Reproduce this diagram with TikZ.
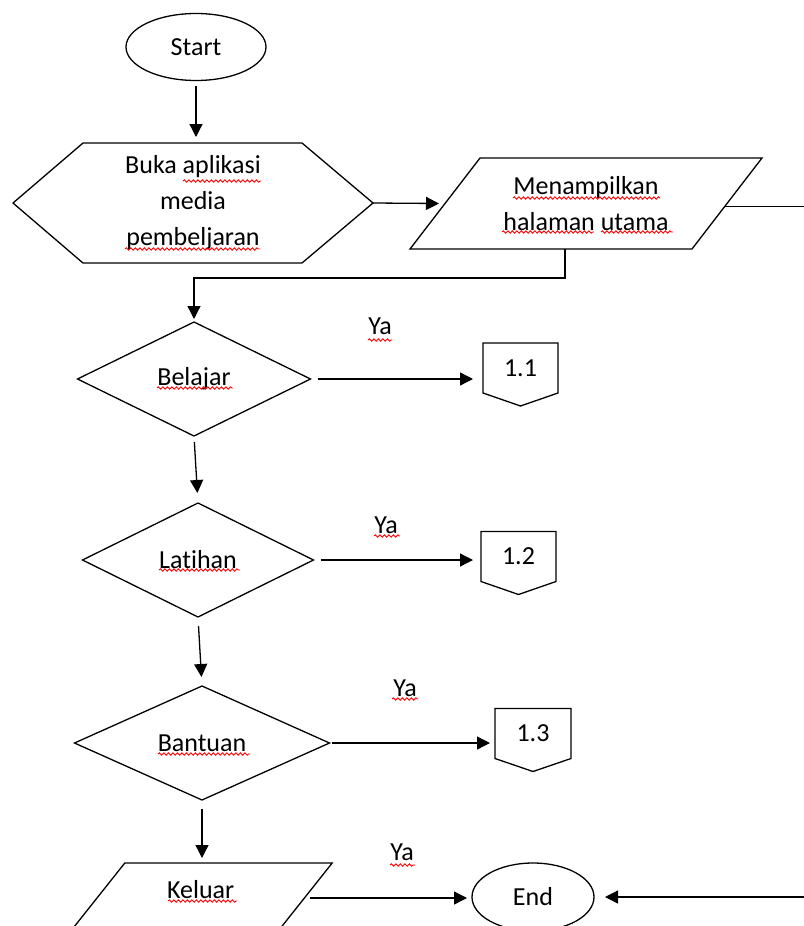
\documentclass[tikz,border=0pt]{standalone}
\usepackage{fontspec}
\setmainfont[Ligatures=NoCommon]{Carlito}
\usetikzlibrary{arrows.meta, shapes.geometric, decorations.pathmorphing}

\begin{document}
\begin{tikzpicture}[x=1pt, y=-1pt, line width=1.3pt,
  every node/.style={font=\fontsize{26pt}{36pt}\selectfont, inner sep=0pt, outer sep=0pt},
  arr/.style={-{Triangle[length=13pt,width=13pt]}},
  terminal/.style={draw, ellipse, minimum width=140pt, minimum height=67pt},
  kotak/.style={minimum width=#1, align=center},
  keputusan/.style={draw, diamond, minimum width=#1, minimum height=114pt},
  halaman/.style={minimum width=75pt, minimum height=50pt},
  salah/.style={red, line width=0.9pt, decorate, decoration={snake, amplitude=1.2pt, segment length=4.5pt}}]
  \useasboundingbox (0,0) rectangle (803,926);

  % Start
  \node[terminal] (start) at (196,47) {Start};

  % Buka aplikasi (hexagon)
  \node[kotak=360pt, minimum height=120pt] (buka) at (193,203)
    {Buka aplikasi\\media\\pembeljaran};
  \draw (buka.west) -- ([xshift=70pt]buka.north west) -- ([xshift=-71pt]buka.north east)
    -- (buka.east) -- ([xshift=-71pt]buka.south east) -- ([xshift=70pt]buka.south west) -- cycle;

  % Menampilkan halaman utama (parallelogram)
  \node[kotak=352pt, minimum height=91pt] (tampil) at (586,203.5)
    {Menampilkan\\halaman utama};
  \draw (tampil.south west) -- ([xshift=70pt]tampil.north west) -- (tampil.north east)
    -- ([xshift=-70pt]tampil.south east) -- cycle;

  % Menu decisions
  \node[keputusan=233pt] (belajar) at (194,379) {Belajar};
  \node[keputusan=231pt] (latihan) at (198,560) {Latihan};
  \node[keputusan=255pt] (bantuan) at (202,743) {Bantuan};

  % Off-page connectors
  \node[halaman] (hal11) at (520.5,368) {1.1};
  \node[halaman] (hal12) at (518.5,556.5) {1.2};
  \node[halaman, minimum width=76pt] (hal13) at (533,733.5) {1.3};
  \foreach \n in {hal11, hal12, hal13}
    \draw (\n.north west) -- (\n.north east) -- (\n.south east)
      -- ([yshift=-13pt]\n.south) -- (\n.south west) -- cycle;

  % Keluar (parallelogram) and End
  \node[kotak=263pt, minimum height=70pt, label={[yshift=8pt]center:Keluar}] (keluar) at (200.7,898) {};
  \draw (keluar.south west) -- ([xshift=55.6pt]keluar.north west) -- (keluar.north east)
    -- ([xshift=-55.6pt]keluar.south east) -- cycle;
  \node[terminal, minimum width=122pt, minimum height=68pt] (end) at (533,897) {End};

  % Ya labels
  \node (ya1) at (380,326) {Ya};
  \node (ya2) at (386,525) {Ya};
  \node (ya3) at (405,688) {Ya};
  \node (ya4) at (402,852) {Ya};

  % spell-check underlines
  \foreach \xa/\xb/\yy in {183/261/181, 125/260/249, 513/660/198, 502/594/232, 601/673/232,
      157/233/388, 159/240/570, 158/250/754, 168/237/901,
      368/392/340, 374/400/536, 392/418/699, 390/415/865}
    \draw[salah] (\xa,\yy) -- (\xb,\yy);

  % Main flow
  \draw[arr, shorten <=5pt, shorten >=6pt] (start.south) -- (start.south |- buka.north);
  \draw[arr] (buka.east) -- ([xshift=29pt]tampil.west);
  \draw[arr, shorten >=3pt] ([xshift=-21pt]tampil.south) -- ++(0,29) -| (belajar.north);
  \draw[arr, shorten <=6pt, shorten >=10pt] (belajar.south) -- (latihan.north);
  \draw[arr, shorten <=9pt, shorten >=9pt] (latihan.south) -- (bantuan.north);
  \draw[arr, shorten <=9pt, shorten >=5pt] (bantuan.south) -- (bantuan.south |- keluar.north);

  % Ya branches
  \draw[arr, shorten <=7pt, shorten >=10pt] (belajar.east) -- (belajar.east -| hal11.west);
  \draw[arr, shorten <=7pt, shorten >=8pt] (latihan.east) -- (latihan.east -| hal12.west);
  \draw[arr, shorten <=2pt, shorten >=5pt] (bantuan.east) -- (bantuan.east -| hal13.west);
  \draw[arr, shorten >=5pt] ([xshift=-22pt]keluar.east) -- (keluar.east -| end.west);

  % Return line on the right
  \coordinate (kanan) at (840,500);
  \draw[arr, shorten >=11pt] ([xshift=-37pt,yshift=-3pt]tampil.east) -| (kanan) |- (end.east);
\end{tikzpicture}
\end{document}
